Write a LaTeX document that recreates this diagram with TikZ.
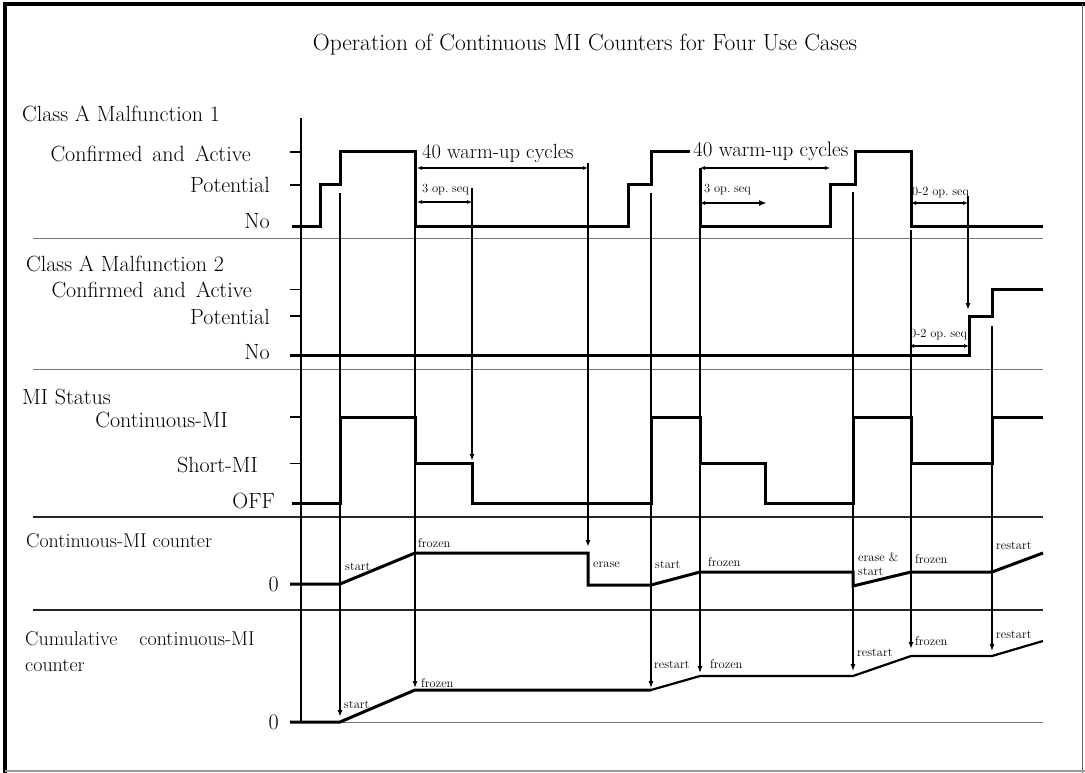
\documentclass[tikz,border=0pt]{standalone}
\usetikzlibrary{arrows.meta}
\begin{document}
\begin{tikzpicture}[x=1pt,y=-1pt,
  lbl/.style={font=\fontsize{22}{26}\selectfont, inner sep=0pt},
  clbl/.style={font=\fontsize{20}{24}\selectfont, inner sep=0pt},
  sml/.style={font=\fontsize{12.5}{14}\selectfont, inner sep=0pt, anchor=west},
  trace/.style={line width=3pt, line join=miter},
  thintrace/.style={line width=2.2pt},
  sep/.style={line width=1pt, black!55},
  sepd/.style={line width=2.4pt, black!85},
  tk/.style={line width=2.2pt},
  tkthin/.style={line width=1pt},
  evt/.style={line width=1.2pt},
  evtk/.style={line width=2.2pt},
  tip/.style={-{Latex[length=7pt,width=5pt]}},
  dim/.style={line width=1.6pt, {Latex[length=5pt,width=4pt]}-{Latex[length=5pt,width=4pt]}}
]
\useasboundingbox (0,0) rectangle (1085,773);
\fill[white] (0,0) rectangle (1085,773);
% frame
\draw[line width=4pt] (5,773) -- (5,4) -- (1085,4);
\draw[line width=1pt, black!60] (1082,4) -- (1082,773);
\draw[line width=1.2pt, black!40] (5,771) -- (1085,771);

% title
\node[font=\fontsize{23.5}{27}\selectfont, inner sep=0pt] (title) at (585,45) {Operation of Continuous MI Counters for Four Use Cases};

% row labels
\node[lbl, anchor=west] (m1) at (22,114) {Class A Malfunction 1};
\node[lbl, anchor=east] (m1c) at (251,154) {Confirmed\hspace{0.45em}and\hspace{0.45em}Active};
\node[lbl, anchor=east] (m1p) at (270,185) {Potential};
\node[lbl, anchor=east] (m1n) at (270,221) {No};

\node[lbl, anchor=west] (m2) at (26,264) {Class A Malfunction 2};
\node[lbl, anchor=east] (m2c) at (252,290) {Confirmed\hspace{0.45em}and\hspace{0.45em}Active};
\node[lbl, anchor=east] (m2p) at (270,317) {Potential};
\node[lbl, anchor=east] (m2n) at (270,352) {No};

\node[lbl, anchor=west] (mi) at (22,397) {MI Status};
\node[lbl, anchor=east] (mic) at (228,420) {Continuous-MI};
\node[lbl, anchor=east] (mis) at (258,465) {Short-MI};
\node[lbl, anchor=east] (mio) at (275,501) {OFF};

\node[clbl, anchor=west] (cc) at (26,541) {Continuous-MI counter};
\node[lbl, anchor=east] (cc0) at (279,584) {0};

\node[clbl, anchor=west] (cu) at (25,639) {Cumulative\hspace{1.1em}continuous-MI};
\node[clbl, anchor=west] (cu2) at (25,665) {counter};
\node[lbl, anchor=east] (cu0) at (279,722) {0};

% separators
\draw[sep] (33,238) -- (1043,238);
\draw[sep] (33,369) -- (1043,369);
\draw[sepd] (33,517) -- (1043,517);
\draw[sepd] (33,610) -- (1043,610);
\draw[sep] (301,722) -- (1043,722);

% axis and ticks
\draw[line width=2.6pt] (301,118) -- (301,722);
\draw[tk] (290,152) -- (301,152);
\draw[tk] (290,185) -- (301,185);
\draw[tkthin] (290,289) -- (301,289);
\draw[tk] (290,316) -- (301,316);
\draw[tk] (290,417) -- (301,417);
\draw[tkthin] (290,463) -- (301,463);

% event lines (behind traces)
\draw[line width=1.6pt, tip] (340,193) -- (340,717);
\draw[evtk] (415,212) -- (415,275);
\draw[evt, tip] (415,212) -- (415,688);
\draw[evtk, tip] (472,188) -- (472,461);
\draw[evtk, tip] (588,163) -- (588,547);
\draw[evtk] (651,193) -- (651,247);
\draw[evt, tip] (651,193) -- (651,688);
\draw[evtk] (700,168) -- (700,279);
\draw[evt, tip] (700,168) -- (700,673);
\draw[evt, tip] (853,192) -- (853,671);
\draw[line width=1.5pt, tip] (911,230) -- (911,649);
\draw[evtk, tip] (968,196) -- (968,310);
\draw[evtk] (992,326) -- (992,341);
\draw[evt, tip] (992,326) -- (992,651);

% Malfunction 1 trace
\draw[trace] (292,226) -- (320,226) -- (320,185) -- (340,185) -- (340,152) -- (415,152) -- (415,226) -- (628,226) -- (628,185) -- (651,185) -- (651,152) -- (690,152);
\draw[trace] (700,168) -- (700,226) -- (830,226) -- (830,185) -- (855,185) -- (855,152) -- (911,152) -- (911,226) -- (1043,226);

% brackets Malfunction 1
\node[clbl, font=\fontsize{20.5}{24}\selectfont, anchor=west] (w1) at (422,153) {40 warm-up cycles};
\draw[dim] (417,168) -- (588,168);
\node[sml] (s1) at (422,190) {3\hspace{0.3em}op.\hspace{0.3em}seq};
\draw[dim] (417,202) -- (472,202);
\node[clbl, font=\fontsize{21}{24}\selectfont, anchor=west] (w2) at (693,151) {40 warm-up cycles};
\draw[dim] (700,168) -- (830,168);
\node[sml] (s2) at (704,190) {3\hspace{0.3em}op.\hspace{0.3em}seq};
\draw[line width=2.2pt, {Latex[length=5pt,width=4pt]}-{Latex[length=8pt,width=6pt]}] (700,203) -- (767,203);
\node[sml] (s3) at (912,193) {0-2\hspace{0.3em}op.\hspace{0.3em}seq};
\draw[line width=1.2pt, {Latex[length=5pt,width=4pt]}-{Latex[length=5pt,width=4pt]}] (911,203) -- (968,203);

% Malfunction 2 trace
\draw[trace] (290,355) -- (969,355) -- (969,316) -- (992,316) -- (992,289) -- (1043,289);
\node[sml] (s4) at (910,335) {0-2\hspace{0.3em}op.\hspace{0.3em}seq};
\draw[line width=1.2pt, {Latex[length=5pt,width=4pt]}-{Latex[length=5pt,width=4pt]}] (909,346) -- (969,346);

% MI status trace
\draw[trace] (292,503) -- (340,503) -- (340,417) -- (415,417) -- (415,463) -- (472,463) -- (472,503) -- (651,503) -- (651,417) -- (700,417) -- (700,463) -- (765,463) -- (765,503) -- (853,503) -- (853,417) -- (911,417) -- (911,463) -- (992,463) -- (992,417) -- (1043,417);

% Continuous-MI counter trace
\draw[trace] (290,584) -- (340,584) -- (415,553) -- (588,553) -- (588,585) -- (651,585) -- (700,572) -- (853,572) -- (853,586) -- (911,572) -- (992,572) -- (1043,553);
\node[sml] (c1) at (345,567) {start};
\node[sml] (c2) at (418,543) {frozen};
\node[sml] (c3) at (593,565) {erase};
\node[sml] (c4) at (655,565) {start};
\node[sml] (c5) at (708,562) {frozen};
\node[sml] (c6) at (858,557) {erase \&};
\node[sml] (c7) at (858,572) {start};
\node[sml] (c8) at (915,559) {frozen};
\node[sml] (c9) at (996,546) {restart};

% Cumulative counter trace
\draw[line width=3pt] (290,722) -- (340,722) -- (415,690) -- (651,690);
\draw[thintrace] (651,690) -- (700,676) -- (853,676) -- (911,656) -- (992,656) -- (1043,641);
\node[sml] (u1) at (344,705) {start};
\node[sml] (u2) at (421,683) {frozen};
\node[sml] (u3) at (654,665) {restart};
\node[sml] (u4) at (710,664) {frozen};
\node[sml] (u5) at (857,653) {restart};
\node[sml] (u6) at (915,641) {frozen};
\node[sml] (u7) at (996,635) {restart};
\end{tikzpicture}
\end{document}
